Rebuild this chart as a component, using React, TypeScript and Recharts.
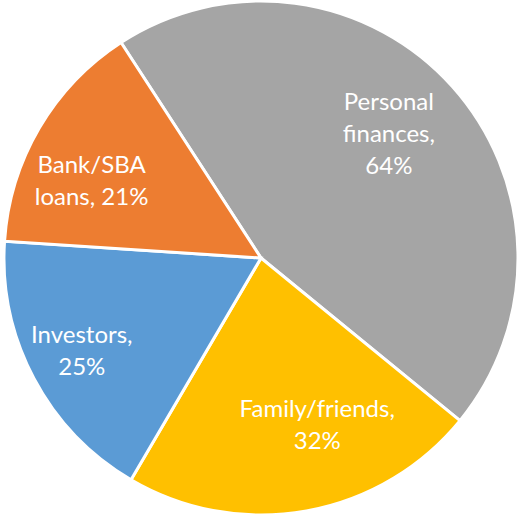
import React from 'react';
import { PieChart, Pie, Cell } from 'recharts';

const categories = ['Personal finances', 'Family/friends', 'Investors', 'Bank/SBA loans'];
const shares = [64, 32, 25, 21];
const labelLines = [
  ['Personal', 'finances,', '64%'],
  ['Family/friends,', '32%'],
  ['Investors,', '25%'],
  ['Bank/SBA', 'loans, 21%'],
];

const COLORS = ['#A5A5A5', '#FFC000', '#5B9BD5', '#ED7D31'];
// small per-slice shifts so labels sit where the original "best fit" put them
const LABEL_NUDGE = [
  [-8, -3],
  [24, -13],
  [-18, 7],
  [-12, 15],
];
const RADIAN = Math.PI / 180;

const data = categories.map((name, i) => ({ name, value: shares[i] }));

const SliceLabel = (props: any) => {
  const { cx, cy, midAngle, outerRadius, index } = props;
  const r = outerRadius * 0.71;
  const x = cx + r * Math.cos(-midAngle * RADIAN) + LABEL_NUDGE[index][0];
  const y = cy + r * Math.sin(-midAngle * RADIAN) + LABEL_NUDGE[index][1];
  const lines = labelLines[index];
  const lh = 32;
  const top = y - ((lines.length - 1) * lh) / 2 + 8.5;
  return (
    <text
      x={x}
      y={top}
      fill="#ffffff"
      textAnchor="middle"
      style={{ fontFamily: 'Lato, "Open Sans", sans-serif', fontSize: 24 }}
    >
      {lines.map((ln, i) => (
        <tspan key={i} x={x} y={top + i * lh}>
          {ln}
        </tspan>
      ))}
    </text>
  );
};

export default function App() {
  return (
    <div style={{ position: 'absolute', left: 0, top: 0, width: 519, height: 516, background: '#fff' }}>
      <PieChart width={519} height={516} margin={{ top: 0, right: 0, bottom: 0, left: 0 }}>
        <Pie
          data={data}
          dataKey="value"
          nameKey="name"
          cx={261}
          cy={258}
          outerRadius={257}
          startAngle={123}
          endAngle={-237}
          stroke="#ffffff"
          strokeWidth={3}
          labelLine={false}
          label={SliceLabel}
          isAnimationActive={false}
        >
          {data.map((entry, index) => (
            <Cell key={`cell-${index}`} fill={COLORS[index]} />
          ))}
        </Pie>
      </PieChart>
    </div>
  );
}
